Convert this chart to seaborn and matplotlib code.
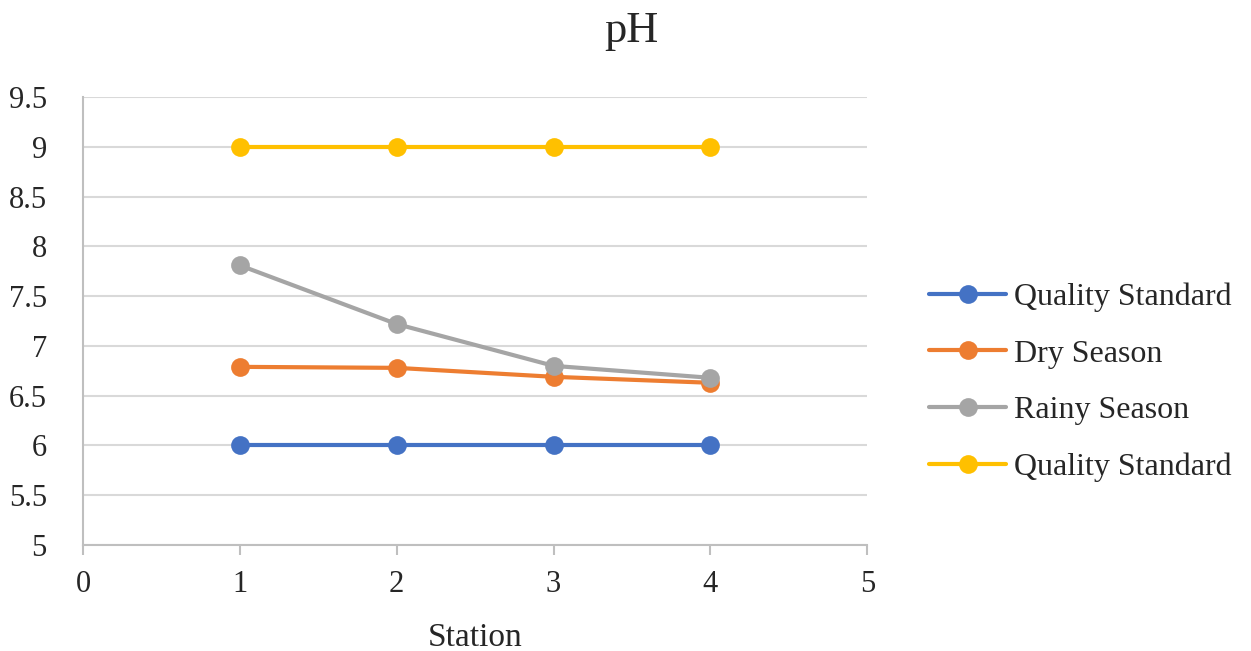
import matplotlib
matplotlib.use("Agg")
import matplotlib.pyplot as plt
import seaborn as sns
import pandas as pd

stations = [1, 2, 3, 4]
quality_min = [6, 6, 6, 6]
dry_season = [6.79, 6.78, 6.69, 6.63]
rainy_season = [7.81, 7.22, 6.80, 6.68]
quality_max = [9, 9, 9, 9]

series = [
    ("Quality Standard", quality_min, "#4472C4"),
    ("Dry Season", dry_season, "#ED7D31"),
    ("Rainy Season", rainy_season, "#A5A5A5"),
    ("Quality Standard", quality_max, "#FFC000"),
]

sns.set_theme(style="white")
plt.rcParams['font.family'] = ['Liberation Serif', 'DejaVu Serif']

fig = plt.figure(figsize=(12.51, 6.51), dpi=100)
ax = fig.add_axes([0.0663, 0.1628, 0.627, 0.688])

for name, vals, col in series:
    df = pd.DataFrame({"Station": stations, "pH": vals})
    sns.lineplot(data=df, x="Station", y="pH", ax=ax, color=col, marker="o",
                 markersize=13.5, markeredgewidth=0, linewidth=3, label=name)

ax.set_xlim(0, 5)
ax.set_ylim(5, 9.5)
ax.set_xticks(range(0, 6))
ax.set_yticks([5 + 0.5 * i for i in range(10)])
ax.set_yticklabels([f"{5 + 0.5 * i:g}" for i in range(10)])
ax.yaxis.grid(True, color="#D9D9D9", linewidth=1.5)
ax.set_axisbelow(True)
for s in ["top", "right"]:
    ax.spines[s].set_visible(False)
for s in ["left", "bottom"]:
    ax.spines[s].set_color("#BFBFBF")
    ax.spines[s].set_linewidth(1.5)
ax.tick_params(axis="x", bottom=True, length=7, width=1.5, color="#BFBFBF",
               labelsize=22, pad=11)
ax.tick_params(axis="y", left=False, labelsize=22, pad=20)
ax.set_xlabel("Station", fontsize=24, labelpad=17)
ax.set_ylabel("")
fig.text(0.505, 0.952, "pH", fontsize=32, ha="center", va="center")

leg = ax.legend(loc="center left", bbox_to_anchor=(0.72, 0.413),
                bbox_transform=fig.transFigure, frameon=False, fontsize=23,
                labelspacing=0.85, handlelength=2.4, handletextpad=0.25)

fig.savefig("out.png", dpi=100)
